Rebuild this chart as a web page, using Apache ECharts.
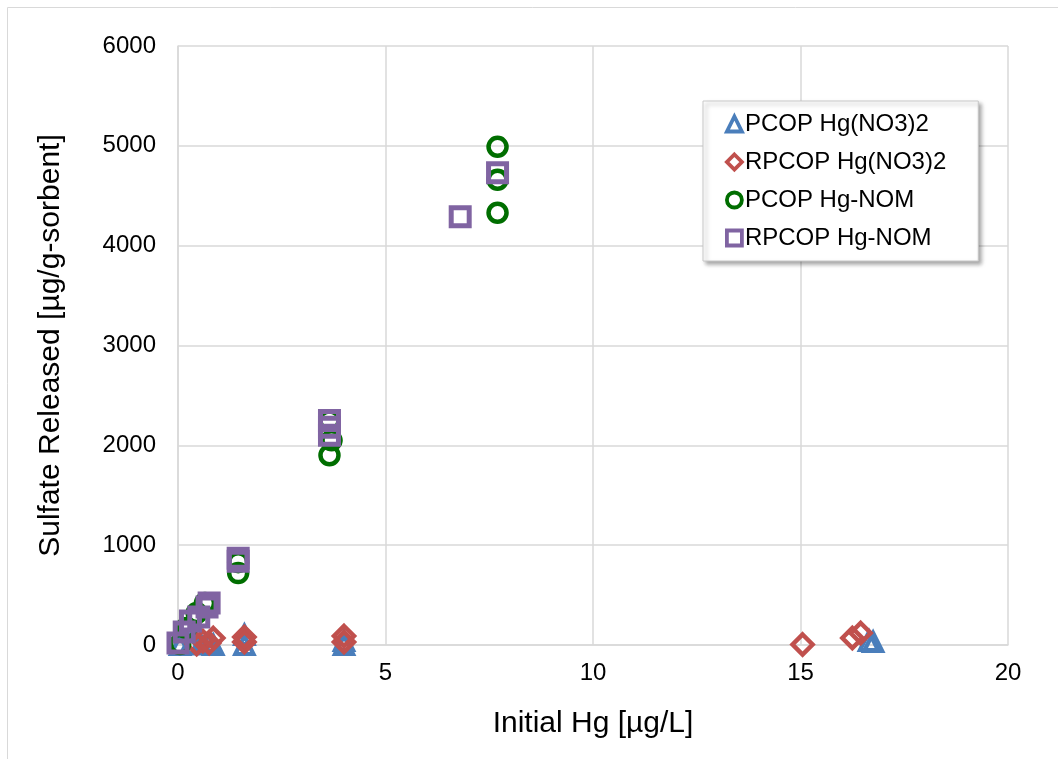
<!DOCTYPE html>
<html>
<head>
<meta charset="utf-8">
<script src="https://cdn.jsdelivr.net/npm/echarts@6/dist/echarts.min.js"></script>
<style>
html,body{margin:0;padding:0;background:#fff;}
#chart{width:1058px;height:759px;}
</style>
</head>
<body>
<div id="chart"></div>
<script>
var seriesNames = ['PCOP Hg(NO3)2', 'RPCOP Hg(NO3)2', 'PCOP Hg-NOM', 'RPCOP Hg-NOM'];
var xTicks = [0, 5, 10, 15, 20];
var yTicks = [0, 1000, 2000, 3000, 4000, 5000, 6000];

var pcopNO3 = [[0.05,0],[0.3,10],[0.55,5],[0.75,20],[0.85,0],[1.6,0],[1.6,100],[4.0,0],[4.0,40],[16.65,40],[16.75,30]];
var rpcopNO3 = [[0.45,10],[0.6,40],[0.75,20],[0.85,70],[1.6,30],[1.6,80],[4.0,30],[4.0,90],[15.05,5],[16.25,70],[16.45,120]];
var pcopNOM = [[0.05,10],[0.2,170],[0.45,320],[0.65,420],[1.45,720],[1.45,830],[3.65,1900],[3.7,2050],[3.65,2250],[7.7,4330],[7.7,4660],[7.7,4990]];
var rpcopNOM = [[0,20],[0.15,130],[0.3,240],[0.5,280],[0.7,380],[0.75,420],[1.45,840],[1.45,870],[3.65,2100],[3.65,2180],[3.65,2250],[6.8,4290],[7.7,4730]];

var colors = ['#4A7EBB', '#C0504D', '#006E00', '#8064A2'];
var symbols = ['triangle', 'diamond', 'circle', 'rect'];
var sizes = [18, 20, 18, 18];
var borders = [4.2, 4.5, 4.5, 5];
var datas = [pcopNO3, rpcopNO3, pcopNOM, rpcopNOM];
var font = '"Liberation Sans", Arial, sans-serif';

var chart = echarts.init(document.getElementById('chart'));
var series = datas.map(function (d, i) {
  return {
    name: seriesNames[i],
    type: 'scatter',
    data: d,
    symbol: symbols[i],
    symbolSize: sizes[i],
    itemStyle: { color: 'rgba(255,255,255,0)', borderColor: colors[i], borderWidth: borders[i], opacity: 1 },
    emphasis: { disabled: true }
  };
});

chart.setOption({
  animation: false,
  textStyle: { fontFamily: font },
  graphic: [
    { type: 'line', shape: { x1: 7.5, y1: 7.5, x2: 7.5, y2: 759 }, style: { stroke: '#d9d9d9', lineWidth: 1 } },
    { type: 'line', shape: { x1: 7.5, y1: 7.5, x2: 1058, y2: 7.5 }, style: { stroke: '#d9d9d9', lineWidth: 1 } }
  ],
  grid: { left: 178, right: 50, top: 46, bottom: 114 },
  legend: {
    orient: 'vertical',
    left: 703, top: 101,
    padding: [11, 32, 11, 22],
    itemGap: 14,
    itemWidth: 15, itemHeight: 15,
    backgroundColor: '#fff',
    borderColor: '#c8c8c8', borderWidth: 1,
    shadowColor: 'rgba(0,0,0,0.35)', shadowBlur: 4, shadowOffsetX: 3, shadowOffsetY: 3,
    textStyle: { fontSize: 24, color: '#000', fontFamily: font, padding: [0,0,0,-2], lineHeight: 24 },
    data: seriesNames.map(function (n, i) {
      return { name: n, icon: symbols[i],
        itemStyle: { color: 'rgba(255,255,255,0)', borderColor: colors[i], borderWidth: 3.8, opacity: 1 } };
    })
  },
  xAxis: {
    type: 'value', min: 0, max: 20, interval: 5,
    name: 'Initial Hg [µg/L]', nameLocation: 'middle', nameGap: 64,
    nameTextStyle: { fontSize: 30, color: '#000', fontFamily: font },
    axisLine: { show: true, lineStyle: { color: '#d9d9d9', width: 1.5 } },
    axisTick: { show: false },
    axisLabel: { fontSize: 24, color: '#000', margin: 16, fontFamily: font },
    splitLine: { show: true, lineStyle: { color: '#d9d9d9', width: 1.5 } }
  },
  yAxis: {
    type: 'value', min: 0, max: 6000, interval: 1000,
    name: 'Sulfate Released [µg/g-sorbent]', nameLocation: 'middle', nameGap: 112,
    nameTextStyle: { fontSize: 30, color: '#000', fontFamily: font },
    axisLine: { show: true, lineStyle: { color: '#d9d9d9', width: 1.5 } },
    axisTick: { show: false },
    axisLabel: { fontSize: 24, color: '#000', margin: 22, fontFamily: font, formatter: function (v) { return String(v); } },
    splitLine: { show: true, lineStyle: { color: '#d9d9d9', width: 1.5 } }
  },
  series: series
});
</script>
</body>
</html>
